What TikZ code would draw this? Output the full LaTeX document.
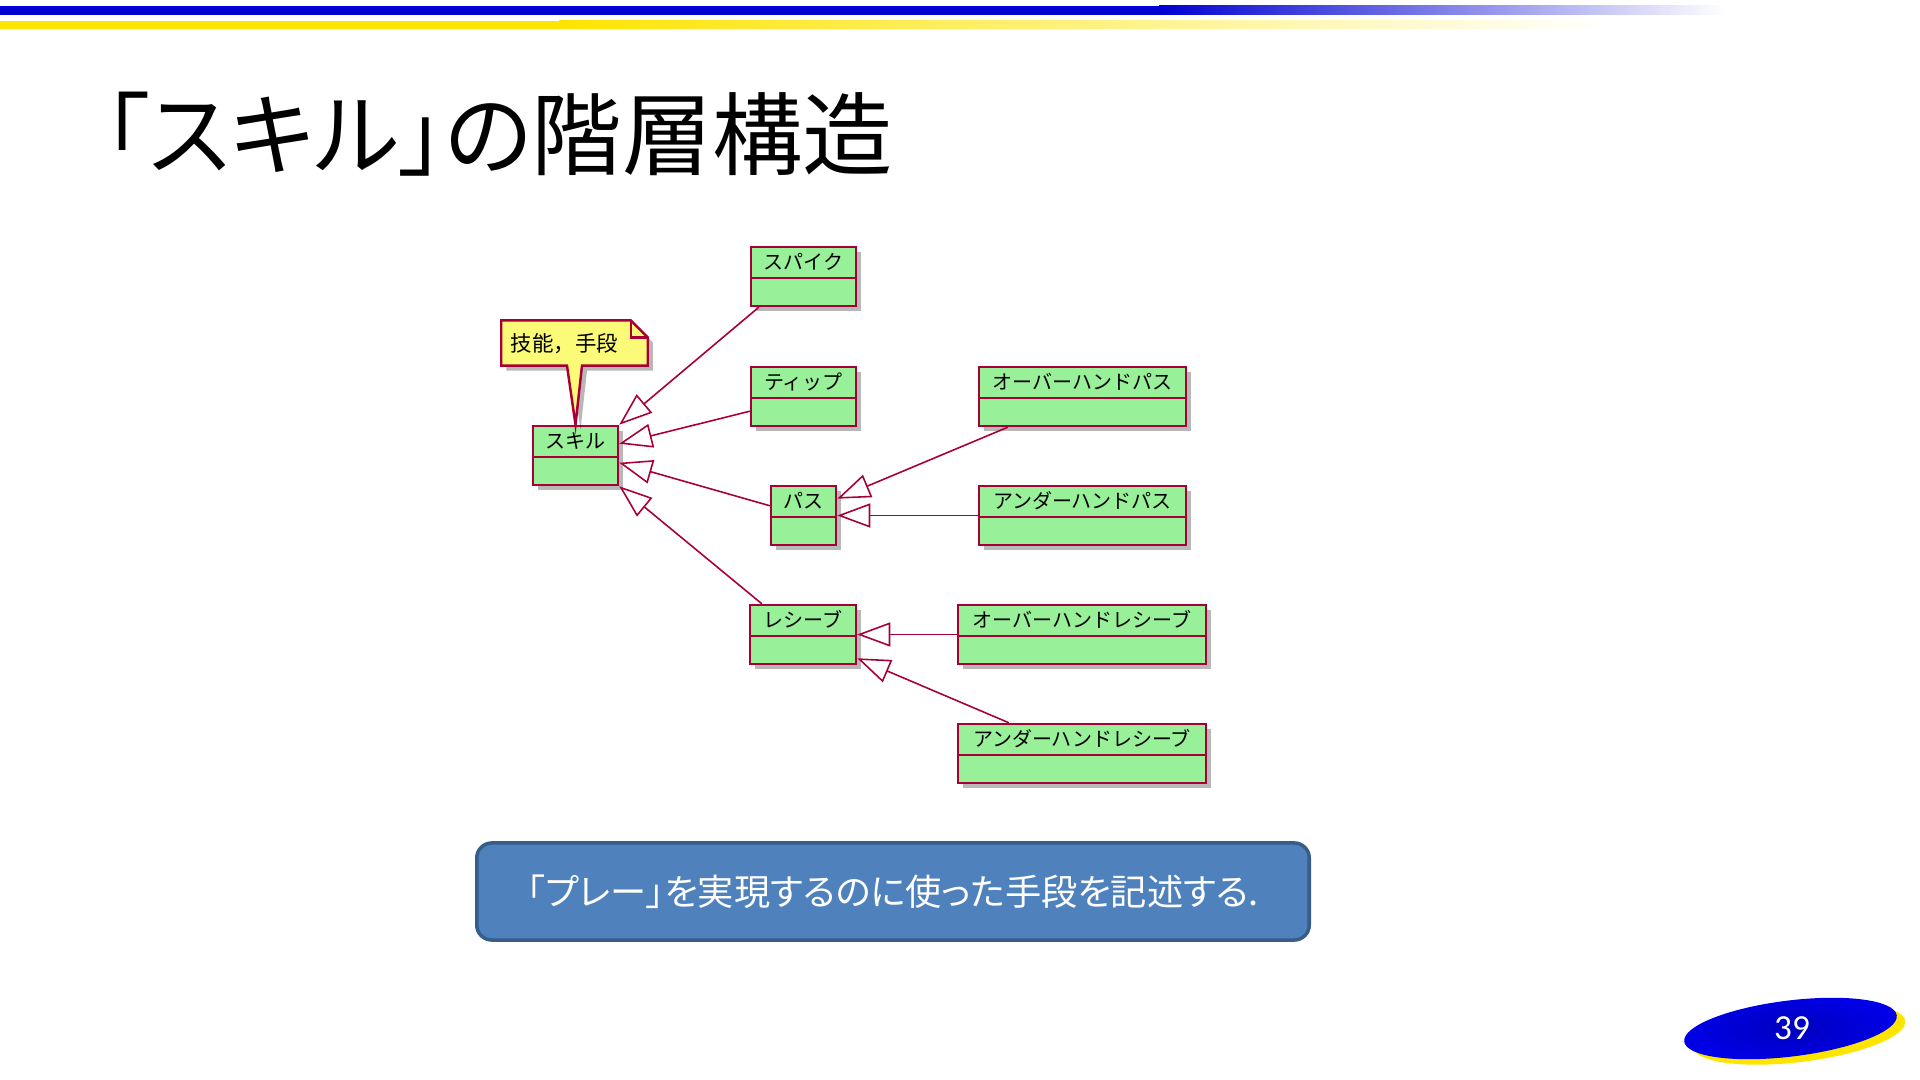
\documentclass[tikz,border=0pt]{standalone}
\usepackage{fontspec}
\newfontfamily\jp{Noto Sans CJK JP}
\newfontfamily\jpp[RawFeature=+palt]{Noto Sans CJK JP}
\newfontfamily\carl{Carlito}
\usetikzlibrary{arrows.meta,calc,shadows}
\definecolor{umlred}{HTML}{A80036}
\definecolor{umlgreen}{HTML}{98F098}
\definecolor{notey}{HTML}{FBFB77}
\definecolor{barblue}{RGB}{0,0,210}
\definecolor{baryellow}{RGB}{255,228,0}
\definecolor{boxblue}{HTML}{4F81BD}
\definecolor{boxedge}{HTML}{385D8A}
\definecolor{pageblue}{RGB}{0,0,232}
\definecolor{pagedark}{RGB}{0,0,190}
\newcommand\umlclass[5]{%
  \node[classbox, minimum width={#4*0.01cm}] (#1) at (#2,#3) {};
  \draw[classline] ($(#1.north west)+(0,32)$) -- ($(#1.north east)+(0,32)$);
  \node[classlabel] (#1-label) at ($(#1.north)+(0,16)$) {#5};
}
\begin{document}
\begin{tikzpicture}[x=0.01cm, y=-0.01cm,
  umlshadow/.style={drop shadow={shadow xshift=0.05cm, shadow yshift=-0.05cm, fill=black, opacity=0.28}},
  classbox/.style={draw=umlred, fill=umlgreen, line width=0.7pt, minimum height=0.59cm, inner sep=0, umlshadow},
  classline/.style={draw=umlred, line width=0.7pt},
  classlabel/.style={inner sep=0, font=\jp\fontsize{5.69pt}{6.5pt}\selectfont},
  gen/.style={draw=umlred, line width=0.45pt, -{Triangle[open, length=0.33cm, width=0.24cm]}},
  noteshape/.style={draw=umlred, fill=notey, line width=0.7pt, line join=miter, umlshadow}]
\useasboundingbox (0,0) rectangle (1920,1080);
% top bars
\fill[barblue] (0,6) rectangle (1160,15);
\shade[left color=barblue, right color=white] (1159,6) rectangle (1725,15);
\fill[baryellow] (0,21) rectangle (560,29);
\shade[left color=baryellow, right color=white] (559,21) rectangle (1610,29);
% title
\node[anchor=west, inner sep=0, font=\jpp\fontsize{25.7pt}{30pt}\selectfont] (title) at (103,134) {「スキル」の階層構造};
% classes
\umlclass{skill}{575.5}{455.5}{85}{スキル}
\umlclass{spike}{803.5}{276.5}{105}{スパイク}
\umlclass{tip}{803.5}{396.5}{105}{ティップ}
\umlclass{pass}{803.5}{515.5}{65}{パス}
\umlclass{receive}{803}{634.5}{106}{レシーブ}
\umlclass{ohpass}{1082.5}{396.5}{207}{オーバーハンドパス}
\umlclass{uhpass}{1082.5}{515.5}{207}{アンダーハンドパス}
\umlclass{ohrec}{1082}{634.5}{248}{オーバーハンドレシーブ}
\umlclass{uhrec}{1082}{753.5}{248}{アンダーハンドレシーブ}
% note
\node[minimum width=1.45cm, minimum height=0.44cm, inner sep=0] (note) at (574.5,343) {};
\draw[noteshape] (note.north west) -- ($(note.north east)+(-17,0)$) -- ($(note.north east)+(0,17)$) -- (note.south east) -- ($(note.south)+(7.5,0)$) -- (skill.north) -- ($(note.south)+(-7.5,0)$) -- (note.south west) -- cycle;
\draw[classline] ($(note.north east)+(-17,0)$) -- ($(note.north east)+(-17,17)$) -- ($(note.north east)+(0,17)$);
\node[anchor=west, inner sep=0, font=\jp\fontsize{6.1pt}{7pt}\selectfont] (notetext) at ($(note.west)+(9,1)$) {技能，手段};
% generalizations
\draw[gen] ($(spike.south west)+(9,0)$) -- (skill.north east);
\draw[gen] ($(tip.south west)+(0,-16)$) -- ($(skill.north east)+(0,19)$);
\draw[gen] ($(pass.north west)+(0,21)$) -- ($(skill.north east)+(0,38)$);
\draw[gen] ($(receive.north west)+(13,0)$) -- (skill.south east);
\draw[gen] ($(ohpass.south west)+(30,0)$) -- ($(pass.north east)+(0,14)$);
\draw[gen] (uhpass.west) -- (pass.east);
\draw[gen] (ohrec.west) -- (receive.east);
\draw[gen] ($(uhrec.north west)+(52,0)$) -- ($(receive.south east)+(0,-7)$);
% description box
\node[draw=boxedge, fill=boxblue, line width=1pt, rounded corners=0.15cm, minimum width=8.32cm, minimum height=0.97cm, inner sep=0, text=white, font=\jpp\fontsize{10.3pt}{13pt}\selectfont] (desc) at (893,891.5) {「プレー」を実現するのに使った手段を記述する.};
% page number
\begin{scope}[shift={(1799,1034)}, rotate=7]
  \fill[baryellow] (0,0) ellipse [x radius=1.07cm, y radius=0.28cm];
\end{scope}
\begin{scope}[shift={(1790.5,1028.5)}, rotate=7]
  \shade[inner color=pagedark, outer color=pageblue] (0,0) ellipse [x radius=1.07cm, y radius=0.28cm];
\end{scope}
\node[inner sep=0, text=white, font=\carl\fontsize{10pt}{12pt}\selectfont] (pagenum) at (1792,1028) {39};
\end{tikzpicture}
\end{document}
